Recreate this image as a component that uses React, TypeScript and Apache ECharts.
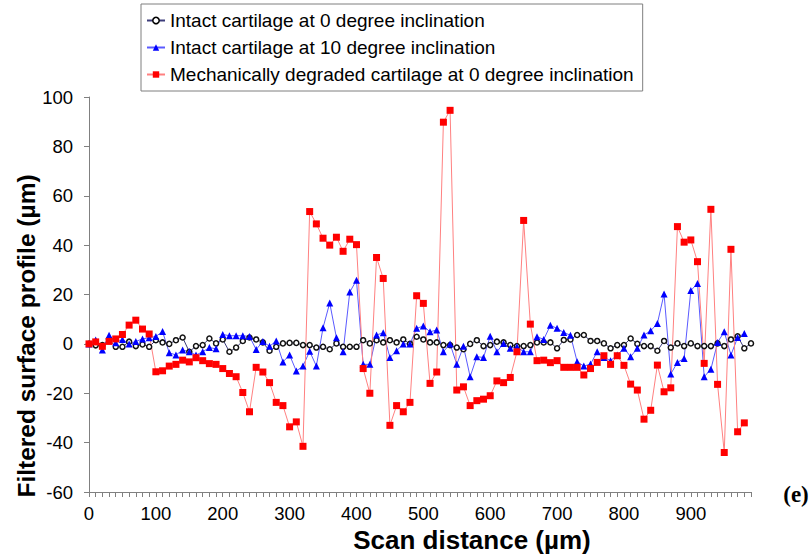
import React, { useEffect, useRef } from "react";
import * as echarts from "echarts";

const categories: string[] = Array.from({ length: 100 }, (_, i) => String(i * 10));

const intact0: number[] = [
  0, -0.6, -0.5, 1.8, -1.2, -1.2, 0.9, -0.9, -0.2, -1.2,
  1.5, 0.6, 0, 1.5, 2.6, -3.2, -0.9, -0.5, 2.2, 0.2,
  1.8, -3.2, -1.5, 1.2, 2.6, 1.8, 0.6, -2.8, -1.2, 0.2,
  0.4, 0.4, -0.5, -0.5, -1.5, -1.2, -2.2, 0.2, -1.2, -1.2,
  -1.2, 1.5, 0.2, 1.5, 0.6, 1.5, 0.6, 1.8, 0, 2.9,
  1.8, 0.6, 0.6, -0.5, -0.5, -1.5, -2.2, 0, 1.5, -0.9,
  -0.5, 0.9, 0.6, -0.5, -0.9, -0.9, -0.5, 0.6, 0.6, 0.6,
  -1.8, 1.6, 1.8, 3.6, 3.6, 1.2, 1.2, 0.2, -1.8, -0.5,
  -0.5, 2.2, 0, -0.9, -0.9, -2.8, 1.2, -1.5, 0.2, -0.9,
  0.2, -0.9, -0.9, -0.9, 0.2, -0.9, 1.8, 3.1, -1.8, 0.2,
];

const intact10: number[] = [
  0, 1.6, -2.5, 3.5, 0.5, 1.8, 0, 1, 2, 2.5,
  3, 5, -3.6, -4.5, -2.5, -3.2, -4.5, -3.2, -1.5, -2,
  3.8, 3.3, 3.3, 3.3, 3, -2.3, 1, -1, 1.2, -7.3,
  -4.5, -11, -9, -3, -9, 6.5, 16.6, 2.5, -3.2, 21,
  25.8, -8.3, -8.3, 3.6, 4.5, -5.5, -2.8, 0, 0, 6.3,
  7.2, 4.9, 5.6, -3.2, 0, -8.3, -1, -13.3, -5.2, -5.5,
  3.1, -3.2, 0.2, -1.8, -1.2, -3.2, -3.2, 2.9, 1.8, 7.5,
  6.3, 4.6, 3.5, -7.2, -9, -8.2, -3.2, -5.5, -6.8, -4.5,
  -1.8, -5.2, -1.8, 3.6, 5.3, 8.3, 20.2, -12.2, -7.5, -5.9,
  21.6, 24.5, -13.3, -10.3, 0.6, 4.9, -4.5, 2.6, 4.2,
];

const degraded0: number[] = [
  0, 0.8, -1, 1, 2, 3.8, 7.6, 9.6, 6, 4,
  -11.3, -10.9, -9, -8.3, -6.6, -7.3, -5.6, -6.8, -8, -8.3,
  -10, -12, -13.3, -19.7, -27.5, -9.5, -11.4, -15.7, -23.7, -25,
  -33.6, -31.6, -41.5, 53.6, 48.6, 42.8, 40, 43.2, 37.5, 42.4,
  40.2, -10, -20, 35, 26.5, -33, -25, -27.5, -23.7, 19.5,
  16.4, -16, -11.4, 89.8, 94.6, -18.7, -17.4, -25, -23, -22.4,
  -21, -15, -15.7, -13.6, -3.2, 50, 8, -6.8, -6.6, -7.6,
  -6.8, -9.5, -9.5, -9.5, -12.6, -10, -7.5, -4.8, -8.3, -4.8,
  -8.7, -16.3, -18.7, -30.5, -26.9, -8.6, -19.4, -17.8, 47.5, 41.2,
  42.1, 33.3, -7.9, 54.5, -16.4, -44, 38.3, -35.6, -32,
];

const yTicks = { min: -60, max: 100, interval: 20 };

const seriesNames = [
  "Intact cartilage at 0 degree inclination",
  "Intact cartilage at 10 degree inclination",
  "Mechanically degraded cartilage at 0 degree inclination",
];

const FONT = "'Liberation Sans', Arial, sans-serif";

export default function App() {
  const ref = useRef<HTMLDivElement>(null);
  useEffect(() => {
    if (!ref.current) return;
    const chart = echarts.init(ref.current, undefined, { renderer: "svg" });
    chart.setOption({
      animation: false,
      backgroundColor: "#ffffff",
      legend: {
        orient: "vertical",
        left: 141,
        top: 4,
        padding: [7, 9, 7, 5],
        itemGap: 8,
        itemWidth: 18,
        itemHeight: 8,
        borderColor: "#7f7f7f",
        borderWidth: 1,
        textStyle: { fontFamily: FONT, fontSize: 19, color: "#000" },
        data: [
          { name: seriesNames[0], itemStyle: { color: "#ffffff", borderColor: "#000", borderWidth: 1.5 } },
          { name: seriesNames[1] },
          { name: seriesNames[2] },
        ],
      },
      grid: { left: 89, top: 97, width: 662, height: 395, containLabel: false },
      xAxis: {
        type: "category",
        data: categories,
        boundaryGap: false,
        axisLine: { onZero: false, lineStyle: { color: "#808080", width: 1 } },
        axisTick: { interval: 0, length: 5, lineStyle: { color: "#808080" } },
        axisLabel: { interval: 9, fontFamily: FONT, fontSize: 18.5, color: "#000", margin: 12 },
        splitLine: { show: false },
      },
      yAxis: {
        type: "value",
        min: yTicks.min,
        max: yTicks.max,
        interval: yTicks.interval,
        axisLine: { show: true, lineStyle: { color: "#808080", width: 1 } },
        axisTick: { show: true, length: 5, lineStyle: { color: "#808080" } },
        axisLabel: { fontFamily: FONT, fontSize: 18.5, color: "#000", margin: 16 },
        splitLine: { show: false },
      },
      series: [
        {
          name: seriesNames[0],
          type: "line",
          data: intact0,
          symbol: "circle",
          symbolSize: 5,
          showAllSymbol: true,
          lineStyle: { color: "#3c3c7a", width: 1 },
          itemStyle: { color: "#ffffff", borderColor: "#111111", borderWidth: 1.5 },
        },
        {
          name: seriesNames[1],
          type: "line",
          data: intact10,
          symbol: "triangle",
          symbolSize: 7,
          showAllSymbol: true,
          lineStyle: { color: "#5a5aff", width: 1 },
          itemStyle: { color: "#0000ff" },
        },
        {
          name: seriesNames[2],
          type: "line",
          data: degraded0,
          symbol: "rect",
          symbolSize: 7,
          showAllSymbol: true,
          lineStyle: { color: "#ff8080", width: 1 },
          itemStyle: { color: "#ff0000" },
        },
      ],
      graphic: [
        {
          type: "text",
          x: 26,
          y: 336,
          rotation: Math.PI / 2,
          style: {
            text: "Filtered surface profile (µm)",
            font: `bold 24.5px ${FONT}`,
            fill: "#000",
            align: "center",
            verticalAlign: "middle",
          },
        },
        {
          type: "text",
          x: 472,
          y: 540,
          style: {
            text: "Scan distance (µm)",
            font: `bold 26px ${FONT}`,
            fill: "#000",
            align: "center",
            verticalAlign: "middle",
          },
        },
        {
          type: "text",
          x: 796,
          y: 494,
          style: {
            text: "(e)",
            font: `bold 23px 'Liberation Serif', 'Times New Roman', serif`,
            fill: "#000",
            align: "center",
            verticalAlign: "middle",
          },
        },
      ],
    });
    return () => chart.dispose();
  }, []);
  return <div ref={ref} style={{ width: 811, height: 558, position: "absolute", left: 0, top: 0 }} />;
}
